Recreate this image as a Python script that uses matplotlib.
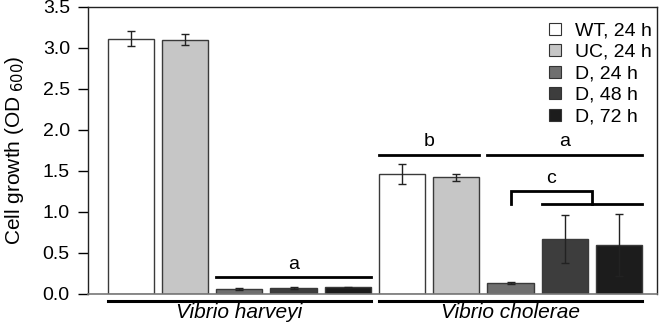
import matplotlib.pyplot as plt
import numpy as np
from matplotlib.lines import Line2D

plt.rcParams['font.family'] = ['Liberation Sans', 'DejaVu Sans']

species = ['Vibrio harveyi', 'Vibrio cholerae']
conditions = ['WT, 24 h', 'UC, 24 h', 'D, 24 h', 'D, 48 h', 'D, 72 h']
colors = ['#ffffff', '#c6c6c6', '#6f6f6f', '#3d3d3d', '#1c1c1c']

harveyi_mean = [3.11, 3.10, 0.06, 0.07, 0.08]
harveyi_err = [0.09, 0.07, 0.01, 0.01, 0.01]
cholerae_mean = [1.46, 1.42, 0.13, 0.67, 0.60]
cholerae_err = [0.12, 0.04, 0.01, 0.29, 0.38]

fig = plt.figure(figsize=(6.66, 3.27), dpi=100)
ax = fig.add_axes([0.132, 0.101, 0.8545, 0.878])

n = len(conditions)
means = [harveyi_mean, cholerae_mean]
errs = [harveyi_err, cholerae_err]
width = 0.85
for g in range(len(species)):
    for i in range(n):
        x = g * n + i
        ax.bar(x, means[g][i], width=width, color=colors[i], edgecolor='#3a3a3a',
               linewidth=1.0, zorder=2)
        ax.errorbar(x, means[g][i], yerr=errs[g][i], fmt='none', ecolor='#222222',
                    elinewidth=1.0, capsize=3, capthick=1.0, zorder=3)

ax.set_xlim(-0.79, 9.70)
ax.set_ylim(0, 3.5)
ticks = np.arange(0, 3.51, 0.5)
ax.set_yticks(ticks)
ax.set_yticklabels([f'{v:.1f}' for v in ticks], fontsize=14)
ax.set_xticks([])
ax.tick_params(axis='y', length=7, width=1.0, pad=6)
ax.set_ylabel('Cell growth (OD$_{\\ 600}$)', fontsize=15, labelpad=12)
for s in ['left', 'top', 'right']:
    ax.spines[s].set_color('#222222')
    ax.spines[s].set_linewidth(1.0)
ax.spines['bottom'].set_color('#777777')
ax.spines['bottom'].set_linewidth(1.2)

hw = width / 2
lw = 2.0
# significance annotations
ax.plot([2 - hw, 4 + hw], [0.21, 0.21], color='black', lw=lw)
ax.text(3, 0.26, 'a', ha='center', va='bottom', fontsize=14)
ax.plot([5 - hw, 6 + hw], [1.70, 1.70], color='black', lw=lw)
ax.text(5.5, 1.75, 'b', ha='center', va='bottom', fontsize=14)
ax.plot([7 - hw, 9 + hw], [1.70, 1.70], color='black', lw=lw)
ax.text(8, 1.75, 'a', ha='center', va='bottom', fontsize=14)
ax.plot([7.0, 7.0, 8.5, 8.5], [1.10, 1.25, 1.25, 1.10], color='black', lw=lw,
        solid_joinstyle='miter')
ax.plot([8 - hw, 9 + hw], [1.10, 1.10], color='black', lw=lw)
ax.text(7.75, 1.31, 'c', ha='center', va='bottom', fontsize=14)

# species lines and labels below axis
for g, name in enumerate(species):
    x0 = g * n - hw
    x1 = g * n + n - 1 + hw
    ax.plot([x0, x1], [-0.085, -0.085], color='black', lw=2.2, clip_on=False)
    ax.text((x0 + x1) / 2, -0.105, name, ha='center', va='top', fontsize=15,
            style='italic', clip_on=False)

handles = [Line2D([], [], marker='s', linestyle='none', markersize=8,
                  markerfacecolor=c, markeredgecolor='#333333', markeredgewidth=0.8)
           for c in colors]
ax.legend(handles, conditions, loc='upper right', frameon=False, fontsize=14,
          handlelength=0.7, handletextpad=0.7, labelspacing=0.2,
          borderaxespad=0.0, bbox_to_anchor=(1.005, 0.975))

fig.savefig('out.png', dpi=100)
